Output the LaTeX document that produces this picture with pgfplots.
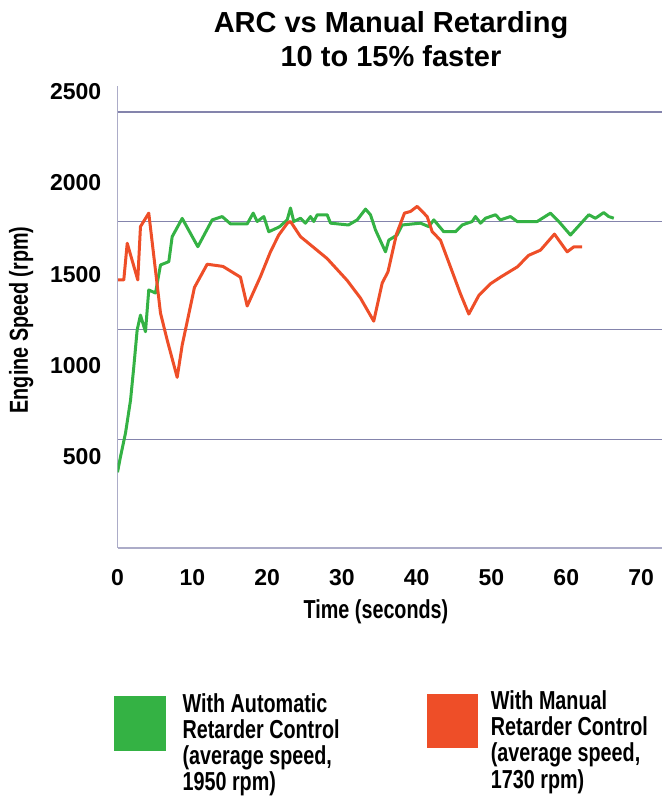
\documentclass[border=0pt]{standalone}
\usepackage{fontspec}
\setmainfont{Liberation Sans}
\newfontfamily\narrow{Liberation Sans}[FakeStretch=0.76]
\usepackage{pgfplots}
\pgfplotsset{compat=1.18}
\definecolor{arcgreen}{RGB}{52,178,68}
\definecolor{manred}{RGB}{238,78,40}
\definecolor{gridc}{RGB}{132,132,172}
\definecolor{axisc}{RGB}{172,172,200}

\begin{document}
\begin{tikzpicture}[x=1pt,y=1pt]
\useasboundingbox (0,0) rectangle (662,797);
\begin{axis}[
    at={(117.5pt,249pt)}, anchor=south west,
    scale only axis, width=544.5pt, height=461.7pt,
    xmin=0, xmax=72.8, ymin=0, ymax=2530,
    axis x line*=bottom, axis y line*=left,
    axis line style={axisc, line width=1.5pt},
    major tick length=0pt,
    xtick={0,10,...,70}, xticklabels={0,10,20,30,40,50,60,70},
    ytick={500,1000,1500,2000,2500}, yticklabels={500,1000,1500,2000,2500},
    ticklabel style={font=\fontsize{23}{23}\selectfont\bfseries, inner sep=0pt},
    xticklabel style={anchor=north, yshift=-21pt},
    yticklabel style={anchor=east, xshift=-16pt},
    extra y ticks={596,1196,1790,2390}, extra y tick labels={},
    extra y tick style={grid=major, grid style={gridc, line width=1.4pt}},
]
% with automatic retarder control
\addplot[arcgreen, line width=3pt, line join=round] coordinates {
(0,415) (0.4,500) (1.07,630) (1.74,809) (2.18,993) (2.63,1195) (3.07,1276)
(3.74,1185) (4.18,1414) (5.08,1397) (5.75,1551) (6.86,1569) (7.31,1706)
(8.65,1806) (10.74,1651) (12.66,1798) (14.0,1816) (15.11,1776) (17.34,1776)
(18.14,1835) (18.68,1789) (19.56,1816) (20.23,1733) (21.66,1760) (22.69,1798)
(23.13,1863) (23.57,1789) (24.47,1807) (25.13,1780) (25.80,1816) (26.24,1789)
(26.70,1826) (28.03,1826) (28.48,1780) (30.88,1770) (32.05,1798) (33.16,1857)
(33.82,1826) (34.49,1743) (35.83,1623) (36.27,1687) (37.39,1715) (38.06,1770)
(40.51,1780) (41.62,1761) (42.29,1798) (43.62,1733) (45.19,1733) (46.08,1770)
(47.42,1789) (47.86,1816) (48.53,1780) (49.20,1807) (50.53,1826) (51.20,1798)
(52.54,1816) (53.44,1789) (56.11,1789) (57.89,1835) (59.0,1789) (60.56,1715)
(63.01,1826) (63.90,1807) (65.01,1838) (65.68,1816) (66.35,1807)
};
% with manual retarder control
\addplot[manred, line width=3pt, line join=round] coordinates {
(0.1,1469) (0.84,1469) (1.30,1670) (2.71,1469) (3.07,1761) (4.18,1835)
(5.75,1287) (6.64,1140) (7.98,935) (8.65,1112) (10.29,1428) (11.99,1555)
(14.10,1543) (16.44,1484) (17.34,1326) (19.12,1488) (20.45,1623) (21.56,1715)
(22.73,1781) (23.13,1789) (24.47,1706) (25.57,1669) (28.03,1586) (30.71,1466)
(32.49,1369) (34.26,1243) (35.39,1452) (36.16,1513) (37.30,1720) (38.37,1835)
(39.17,1844) (40.07,1872) (41.40,1816) (42.07,1733) (43.18,1687) (44.52,1540)
(45.86,1392) (46.97,1282) (48.30,1383) (49.87,1448) (51.20,1484) (53.44,1540)
(54.99,1604) (56.55,1632) (58.42,1720) (60.12,1623) (61.0,1650) (62.12,1650)
};
\end{axis}

% title
\node[font=\fontsize{29}{34}\selectfont\bfseries, anchor=base] at (391,764) {ARC vs Manual Retarding};
\node[font=\fontsize{29}{34}\selectfont\bfseries, anchor=base] at (391,730) {10 to 15\% faster};

% axis labels
\node[font=\narrow\fontsize{26}{26}\selectfont\bfseries, rotate=90, anchor=base] at (28,477) {Engine Speed (rpm)};
\node[font=\narrow\fontsize{26}{26}\selectfont\bfseries, anchor=base] at (376,178) {Time (seconds)};

% legend
\fill[arcgreen] (114.3,46) rectangle (165.6,100.8);
\fill[manred] (426.9,48.8) rectangle (478.1,103.3);
\begin{scope}[every node/.style={font=\narrow\fontsize{26}{26}\selectfont\bfseries, anchor=base west, inner sep=0pt}]
\node at (182.4,84) {With Automatic};
\node at (182.4,58) {Retarder Control};
\node at (182.4,32) {(average speed,};
\node at (182.4,6) {1950 rpm)};
\node at (490.7,87) {With Manual};
\node at (490.7,61) {Retarder Control};
\node at (490.7,35) {(average speed,};
\node at (490.7,9) {1730 rpm)};
\end{scope}
\end{tikzpicture}
\end{document}
